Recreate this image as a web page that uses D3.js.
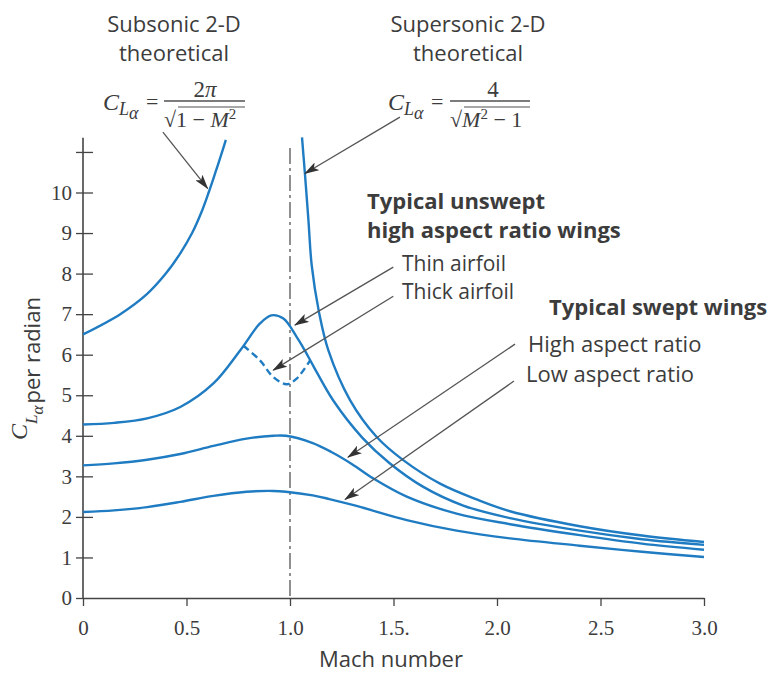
<!DOCTYPE html>
<html>
<head>
<meta charset="utf-8">
<script src="https://cdn.jsdelivr.net/npm/d3@7"></script>
<style>
body { margin: 0; background: #fff; }
text { fill: #3c3c3c; }
.lbl { font-family: "Open Sans", sans-serif; font-size: 22px; }
.bold { font-weight: bold; }
.serif { font-family: "Liberation Serif", serif; }
</style>
</head>
<body>
<svg id="chart" width="773" height="673"></svg>
<script>
// values: [Mach number, CL alpha per radian]
const subsonic = [[0,6.5],[0.18,7.0],[0.31,7.5],[0.40,8.0],[0.47,8.5],[0.527,9.0],[0.571,9.5],[0.607,10.0],[0.64,10.5],[0.672,11.0],[0.69,11.3]];
const supersonic = [[1.058,11.36],[1.072,10.47],[1.089,9.32],[1.105,8.2],[1.14,7.05],[1.185,6.11],[1.29,4.88],[1.419,3.97],[1.547,3.40],[1.725,2.82],[1.902,2.43],[2.063,2.14],[2.4,1.77],[2.7,1.54],[3.0,1.38]];
const thinAirfoil = [[0,4.28],[0.15,4.32],[0.31,4.43],[0.47,4.71],[0.63,5.29],[0.76,6.11],[0.855,6.77],[0.91,6.97],[0.968,6.89],[1.032,6.44],[1.072,6.1],[1.113,5.72],[1.209,4.87],[1.35,3.95],[1.48,3.33],[1.644,2.74],[1.837,2.28],[2.063,1.97],[2.4,1.66],[2.7,1.45],[3.0,1.31]];
const thickAirfoil = [[0.775,6.22],[0.855,5.86],[0.919,5.45],[0.984,5.27],[1.032,5.41],[1.097,5.86]];
const highAspect = [[0,3.27],[0.15,3.32],[0.31,3.41],[0.47,3.55],[0.63,3.75],[0.79,3.93],[0.92,4.0],[0.98,4.0],[1.11,3.82],[1.2,3.6],[1.3,3.3],[1.402,2.95],[1.564,2.5],[1.805,2.08],[2.063,1.82],[2.4,1.55],[2.7,1.34],[3.0,1.19]];
const lowAspect = [[0,2.12],[0.15,2.16],[0.31,2.24],[0.47,2.37],[0.63,2.52],[0.79,2.62],[0.92,2.64],[0.98,2.62],[1.11,2.53],[1.19,2.44],[1.322,2.27],[1.564,1.92],[1.805,1.66],[2.063,1.47],[2.4,1.29],[2.7,1.14],[3.0,1.01]];

const xTicks = [0, 0.5, 1, 1.5, 2, 2.5, 3];
const xTickLabels = ["0", "0.5", "1.0", "1.5.", "2.0", "2.5", "3.0"];
const yTicks = [0,1,2,3,4,5,6,7,8,9,10,11];

// pointer lines, both ends in data units
const arrows = [
  {from: [0.386, 11.49], to: [0.602, 10.10]},
  {from: [1.531, 11.86], to: [1.072, 10.47]},
  {from: [1.499, 8.16], to: [1.024, 6.73]},
  {from: [1.499, 7.44], to: [0.919, 5.62]},
  {from: [2.087, 6.26], to: [1.280, 3.47]},
  {from: [2.082, 5.35], to: [1.266, 2.43]}
];

const svg = d3.select("#chart");
const x = d3.scaleLinear().domain([0, 3]).range([83, 704]);
const y = d3.scaleLinear().domain([0, 10]).range([598, 192.5]);
const blue = "#1f7cc2";
const grey = "#444";

svg.append("defs").append("marker")
  .attr("id", "head")
  .attr("markerUnits", "userSpaceOnUse")
  .attr("viewBox", "0 0 15 9")
  .attr("markerWidth", 15).attr("markerHeight", 9)
  .attr("refX", 14).attr("refY", 4.5)
  .attr("orient", "auto")
  .append("path").attr("d", "M0,0 L15,4.5 L0,9 L3.5,4.5 Z").attr("fill", "#333");

// axes
const xAxis = svg.append("g")
  .attr("transform", "translate(0," + y(0) + ")")
  .call(d3.axisBottom(x).tickValues(xTicks).tickSize(8).tickSizeOuter(0)
    .tickFormat((d, i) => xTickLabels[i]));
xAxis.select(".domain").attr("stroke", grey).attr("stroke-width", 1.6);
xAxis.selectAll(".tick line").attr("stroke", grey).attr("stroke-width", 1.3);
xAxis.selectAll(".tick text").attr("y", 37).attr("dy", 0)
  .attr("class", "serif").style("font-size", "21px").attr("fill", "#3c3c3c");

const yAxis = svg.append("g")
  .attr("transform", "translate(" + x(0) + ",0)")
  .call(d3.axisLeft(y).tickValues(yTicks).tickSize(7).tickSizeOuter(0)
    .tickFormat(d => d === 11 ? "" : d));
yAxis.select(".domain").remove();
yAxis.append("line").attr("y1", y(0)).attr("y2", y(11.35))
  .attr("stroke", grey).attr("stroke-width", 1.6);
yAxis.selectAll(".tick line").attr("x2", d => d === 0 ? 0 : 10).attr("x1", -7)
  .attr("stroke", grey).attr("stroke-width", 1.3);
yAxis.selectAll(".tick text").attr("x", -11)
  .attr("class", "serif").style("font-size", "21px").attr("fill", "#3c3c3c");

// M = 1 reference line
svg.append("line")
  .attr("x1", x(1)).attr("x2", x(1)).attr("y1", y(11.1)).attr("y2", y(0))
  .attr("stroke", "#555").attr("stroke-width", 1.3)
  .attr("stroke-dasharray", "16,4,3,4");

// curves
const line = d3.line().x(d => x(d[0])).y(d => y(d[1])).curve(d3.curveCatmullRom.alpha(0.5));
[subsonic, supersonic, thinAirfoil, highAspect, lowAspect].forEach(s => {
  svg.append("path").attr("d", line(s)).attr("fill", "none")
    .attr("stroke", blue).attr("stroke-width", 2.4);
});
svg.append("path").attr("d", line(thickAirfoil)).attr("fill", "none")
  .attr("stroke", blue).attr("stroke-width", 2.4).attr("stroke-dasharray", "7,4");

// pointers
svg.selectAll("line.arrow").data(arrows).enter().append("line")
  .attr("class", "arrow")
  .attr("x1", d => x(d.from[0])).attr("y1", d => y(d.from[1]))
  .attr("x2", d => x(d.to[0])).attr("y2", d => y(d.to[1]))
  .attr("stroke", "#555").attr("stroke-width", 1.3)
  .attr("marker-end", "url(#head)");

// text labels
function label(t, px, py, cls, anchor, size) {
  svg.append("text").attr("x", px).attr("y", py)
    .attr("class", "lbl " + (cls || ""))
    .attr("text-anchor", anchor || "start")
    .style("font-size", size || null).text(t);
}
label("Subsonic 2-D", 174, 32, "", "middle");
label("theoretical", 174, 61, "", "middle");
label("Supersonic 2-D", 468, 32, "", "middle");
label("theoretical", 468, 61, "", "middle");
label("Typical unswept", 367, 209, "bold");
label("high aspect ratio wings", 367, 238, "bold");
label("Thin airfoil", 402, 271, "", "start", "21px");
label("Thick airfoil", 402, 299, "", "start", "21px");
label("Typical swept wings", 549, 315, "bold");
label("High aspect ratio", 528, 352);
label("Low aspect ratio", 526, 382);
label("Mach number", 391, 667, "", "middle");

// formulas
function clAlpha(g, px, py) {
  const t = g.append("text").attr("x", px).attr("y", py)
    .attr("class", "serif").style("font-style", "italic").attr("fill", "#505050");
  t.append("tspan").style("font-size", "24px").text("C");
  t.append("tspan").attr("dy", 5).style("font-size", "18px").text("L");
  t.append("tspan").attr("dy", 4).style("font-size", "18px").text("α");
}
function formula(px, num, den, numX, barX1, barX2, rootX1) {
  const g = svg.append("g");
  clAlpha(g, px, 110);
  g.append("text").attr("x", px + 43).attr("y", 109).attr("class", "serif")
    .style("font-size", "22px").attr("fill", "#505050").text("=");
  g.append("line").attr("x1", barX1).attr("x2", barX2).attr("y1", 101).attr("y2", 101)
    .attr("stroke", "#505050").attr("stroke-width", 1.4);
  g.append("line").attr("x1", rootX1).attr("x2", barX2).attr("y1", 107).attr("y2", 107)
    .attr("stroke", "#505050").attr("stroke-width", 1.2);
  const n = g.append("text").attr("x", numX).attr("y", 97).attr("class", "serif")
    .attr("text-anchor", "middle").style("font-size", "23px").attr("fill", "#505050");
  num.forEach(p => n.append("tspan").style("font-style", p[1] ? "italic" : "normal").text(p[0]));
  const dn = g.append("text").attr("x", barX1).attr("y", 127).attr("class", "serif")
    .style("font-size", "22px").attr("fill", "#505050");
  den.forEach(p => {
    const s = dn.append("tspan").style("font-style", p[1] ? "italic" : "normal").text(p[0]);
    if (p[2]) s.attr("dy", p[2]).style("font-size", p[3]);
  });
}
formula(103, [["2", false], ["π", true]],
  [["√", false], ["1 − ", false], ["M", true], ["2", false, -8, "15px"], ["", false, 8, "22px"]],
  205, 164, 245, 178);
formula(388, [["4", false]],
  [["√", false], ["M", true], ["2", false, -8, "15px"], [" − 1", false, 8, "22px"]],
  493, 450, 530, 464);

// y axis title
const yt = svg.append("text").attr("transform", "translate(40,440) rotate(-90)");
yt.append("tspan").attr("class", "serif").attr("y", -13).style("font-style", "italic")
  .style("font-size", "24px").text("C");
yt.append("tspan").attr("class", "serif").attr("y", -3).style("font-style", "italic")
  .style("font-size", "17px").text("L");
yt.append("tspan").attr("class", "serif").attr("y", 3).style("font-style", "italic")
  .style("font-size", "17px").text("α");
yt.append("tspan").attr("y", 0).attr("dx", 2).attr("class", "lbl").style("font-size", "22px")
  .text("per radian");
</script>
</body>
</html>
